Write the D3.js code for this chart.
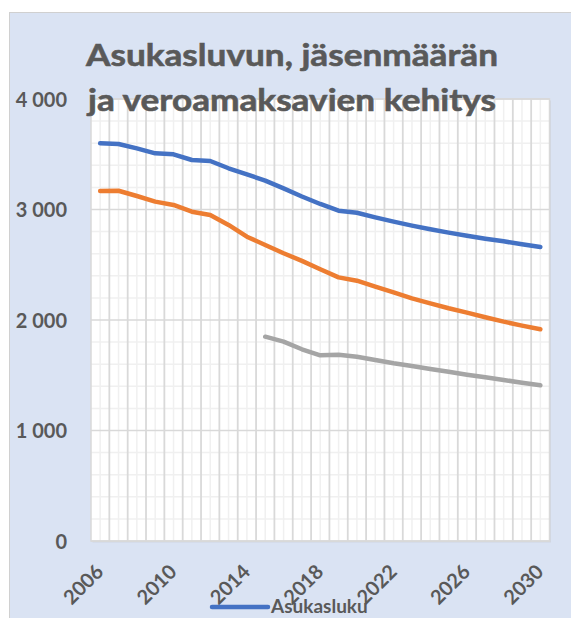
<!DOCTYPE html>
<html>
<head>
<meta charset="utf-8">
<script src="https://cdn.jsdelivr.net/npm/d3@7"></script>
<style>
  body { margin: 0; background: #fff; }
  svg { display: block; font-family: Lato, "Open Sans", sans-serif; }
</style>
</head>
<body>
<svg id="chart" width="571" height="618"></svg>
<script>
// data
const years = d3.range(2006, 2031)
const tickYears = [2006, 2010, 2014, 2018, 2022, 2026, 2030]
const yTicks = [0, 1000, 2000, 3000, 4000]
const seriesNames = ['Asukasluku', 'Jäsenmäärä', 'Veroamaksavat']
const seriesColors = ['#4472c4', '#ed7d31', '#a5a5a5']

const asukasluku = [3599, 3593, 3553, 3508, 3499, 3448, 3439, 3373, 3318, 3261, 3191, 3118,
  3050, 2989, 2971, 2929, 2890, 2854, 2821, 2791, 2763, 2736, 2712, 2685, 2661]
const jasenmaara = [3167, 3170, 3122, 3071, 3041, 2980, 2950, 2860, 2754, 2679, 2604, 2535,
  2459, 2386, 2356, 2302, 2250, 2196, 2151, 2106, 2067, 2025, 1985, 1949, 1916]
const veronmaksajat = [null, null, null, null, null, null, null, null, null, 1849, 1804, 1735,
  1680, 1686, 1668, 1638, 1608, 1584, 1557, 1532, 1505, 1481, 1457, 1433, 1409]

const allSeries = [asukasluku, jasenmaara, veronmaksajat]

const svg = d3.select('#chart')
const textColor = '#595959'

// chart area
svg.append('rect')
  .attr('x', 9.5).attr('y', 12.5)
  .attr('width', 600).attr('height', 650)
  .style('fill', '#dae3f3')
  .style('stroke', '#d0d0d0')

const plotLeft = 91, plotRight = 549.5, plotTop = 99, plotBottom = 541

const x = d3.scalePoint().domain(years).range([plotLeft, plotRight]).padding(0.5)
const step = x.step()
const y = d3.scaleLinear().domain([0, 4000]).range([plotBottom, plotTop])

// plot area
svg.append('rect')
  .attr('x', plotLeft + 1.5).attr('y', plotTop + 1.5)
  .attr('width', plotRight - plotLeft).attr('height', plotBottom - plotTop)
  .style('fill', '#cfd6e2')
svg.append('rect')
  .attr('x', plotLeft).attr('y', plotTop)
  .attr('width', plotRight - plotLeft).attr('height', plotBottom - plotTop)
  .style('fill', 'white')

const grid = svg.append('g')
// minor gridlines
grid.selectAll('.minor-y')
  .data(d3.range(0, 4001, 200).filter(d => d % 1000 !== 0))
  .join('line')
  .attr('x1', plotLeft).attr('x2', plotRight)
  .attr('y1', d => y(d)).attr('y2', d => y(d))
  .style('stroke', '#f0f0f0').style('stroke-width', 1.5)
grid.selectAll('.minor-x')
  .data(years)
  .join('line')
  .attr('x1', d => x(d)).attr('x2', d => x(d))
  .attr('y1', plotTop).attr('y2', plotBottom)
  .style('stroke', '#f0f0f0').style('stroke-width', 1.5)
// major gridlines
grid.selectAll('.major-x')
  .data(years.slice(1))
  .join('line')
  .attr('x1', d => x(d) - step / 2).attr('x2', d => x(d) - step / 2)
  .attr('y1', plotTop).attr('y2', plotBottom)
  .style('stroke', '#d9d9d9').style('stroke-width', 1.8)
grid.selectAll('.major-y')
  .data(yTicks)
  .join('line')
  .attr('x1', plotLeft).attr('x2', plotRight)
  .attr('y1', d => y(d)).attr('y2', d => y(d))
  .style('stroke', '#d9d9d9').style('stroke-width', 1.5)

svg.append('rect')
  .attr('x', plotLeft).attr('y', plotTop)
  .attr('width', plotRight - plotLeft).attr('height', plotBottom - plotTop)
  .style('fill', 'none')
  .style('stroke', '#d9d9d9').style('stroke-width', 1.5)

// axes
const yAxis = svg.append('g')
  .attr('transform', 'translate(67,0)')
  .call(d3.axisLeft(y).tickValues(yTicks).tickSize(0).tickPadding(0)
    .tickFormat(d => d3.format(',')(d).replace(',', ' ')))
yAxis.select('.domain').remove()
yAxis.selectAll('text')
  .style('font-family', 'Lato, sans-serif')
  .style('font-size', '20px')
  .style('font-weight', 'bold')
  .style('fill', textColor)
  .attr('dy', '0.36em')

const xAxis = svg.append('g')
  .call(d3.axisBottom(x).tickValues(tickYears).tickSize(0))
xAxis.select('.domain').remove()
xAxis.selectAll('.tick')
  .attr('transform', d => `translate(${x(d) + 4.5},573)`)
xAxis.selectAll('text')
  .attr('y', 0).attr('dy', 0)
  .attr('transform', 'rotate(-45)')
  .style('text-anchor', 'end')
  .style('font-family', 'Lato, sans-serif')
  .style('font-size', '20px')
  .style('font-weight', 'bold')
  .style('fill', textColor)

// lines
const line = d3.line()
  .defined(d => d.v !== null)
  .x(d => x(d.year))
  .y(d => y(d.v))

svg.selectAll('.series')
  .data(allSeries)
  .join('path')
  .attr('d', s => line(s.map((v, i) => ({ year: years[i], v: v }))))
  .style('fill', 'none')
  .style('stroke', (s, i) => seriesColors[i])
  .style('stroke-width', 4.5)
  .style('stroke-linecap', 'round')
  .style('stroke-linejoin', 'round')

// title
const titleLines = ['Asukasluvun, jäsenmäärän', 'ja veroamaksavien kehitys']
svg.selectAll('.title')
  .data(titleLines)
  .join('text')
  .attr('x', (d, i) => i === 0 ? 86 : 88)
  .attr('y', (d, i) => i === 0 ? 66 : 111)
  .attr('textLength', (d, i) => i === 0 ? 412 : 408)
  .attr('lengthAdjust', 'spacingAndGlyphs')
  .text(d => d)
  .style('font-size', '31px')
  .style('font-weight', 'bold')
  .style('fill', textColor)
  .style('stroke', textColor)
  .style('stroke-width', 0.6)

// legend (only the first entry fits in the picture)
const legend = svg.append('g')
legend.selectAll('line')
  .data(seriesNames.slice(0, 1))
  .join('line')
  .attr('x1', 212).attr('x2', 268)
  .attr('y1', 607).attr('y2', 607)
  .style('stroke', (d, i) => seriesColors[i])
  .style('stroke-width', 4.5)
  .style('stroke-linecap', 'round')
legend.selectAll('text')
  .data(seriesNames.slice(0, 1))
  .join('text')
  .attr('x', 271).attr('y', 613)
  .text(d => d)
  .style('font-size', '19px')
  .style('font-weight', 'bold')
  .style('fill', textColor)
</script>
</body>
</html>
